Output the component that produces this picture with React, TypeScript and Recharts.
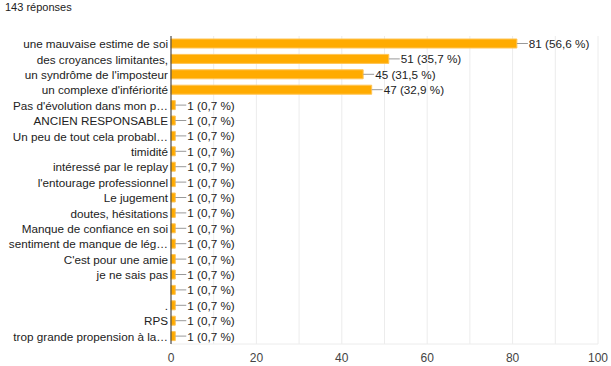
import React from 'react';
import { BarChart, Bar, XAxis, YAxis, CartesianGrid, LabelList } from 'recharts';

const categories = [
  'une mauvaise estime de soi',
  'des croyances limitantes,',
  "un syndrôme de l'imposteur",
  "un complexe d'infériorité",
  "Pas d'évolution dans mon p…",
  'ANCIEN RESPONSABLE',
  'Un peu de tout cela probabl…',
  'timidité',
  'intéressé par le replay',
  "l'entourage professionnel",
  'Le jugement',
  'doutes, hésitations',
  'Manque de confiance en soi',
  'sentiment de manque de lég…',
  "C'est pour une amie",
  'je ne sais pas',
  '',
  '.',
  'RPS',
  'trop grande propension à la…',
];

const counts = [81, 51, 45, 47, 1, 1, 1, 1, 1, 1, 1, 1, 1, 1, 1, 1, 1, 1, 1, 1];
const percents = ['56,6', '35,7', '31,5', '32,9', '0,7', '0,7', '0,7', '0,7', '0,7', '0,7', '0,7', '0,7', '0,7', '0,7', '0,7', '0,7', '0,7', '0,7', '0,7', '0,7'];
const xTicks = [0, 10, 20, 30, 40, 50, 60, 70, 80, 90, 100];

const FONT = 'Arial, "Liberation Sans", sans-serif';

const chartData = categories.map((name, i) => ({
  id: `c${i}`,
  name,
  count: counts[i],
  label: `${counts[i]} (${percents[i]} %)`,
}));

function CategoryTick(props: any) {
  const { x, y, payload } = props;
  const name = chartData[Number(String(payload.value).slice(1))].name;
  return (
    <text x={x} y={y} dy={4.5} textAnchor="end" fontSize={11.7} fill="#222" fontFamily={FONT}>
      {name}
    </text>
  );
}

function ValueLabel(props: any) {
  const { x, y, width, height, index } = props;
  const endX = x + width;
  const cy = y + height / 2;
  return (
    <g>
      <line x1={endX} y1={cy} x2={endX + 11} y2={cy} stroke="#999" strokeWidth={1} />
      <text x={endX + 12} y={cy} dy={4.5} fontSize={11.7} fill="#222" fontFamily={FONT}>
        {chartData[index].label}
      </text>
    </g>
  );
}

export default function App() {
  return (
    <div style={{ position: 'absolute', left: 0, top: 0, width: 611, height: 366, background: '#fff', fontFamily: FONT }}>
      <div style={{ position: 'absolute', left: 5, top: 1, fontSize: 11, color: '#222' }}>143 réponses</div>
      <BarChart
        width={611}
        height={366}
        data={chartData}
        layout="vertical"
        margin={{ top: 36, right: 13, bottom: 8, left: 0 }}
      >
        <CartesianGrid horizontal={false} stroke="#ececec" />
        <XAxis
          type="number"
          domain={[0, 100]}
          ticks={xTicks}
          tickFormatter={(v: number) => (v % 20 === 0 ? String(v) : '')}
          axisLine={{ stroke: '#ececec' }}
          tickLine={false}
          tick={{ fontSize: 12, fill: '#444', fontFamily: FONT }}
          tickMargin={3}
          height={14}
        />
        <YAxis
          type="category"
          dataKey="id"
          width={171}
          axisLine={{ stroke: '#333' }}
          tickLine={false}
          tickSize={0}
          tickMargin={3}
          interval={0}
          tick={<CategoryTick />}
        />
        <Bar dataKey="count" fill="#ffab00" stroke="#ffc454" strokeWidth={1} barSize={9} isAnimationActive={false}>
          <LabelList dataKey="label" content={<ValueLabel />} />
        </Bar>
      </BarChart>
    </div>
  );
}
